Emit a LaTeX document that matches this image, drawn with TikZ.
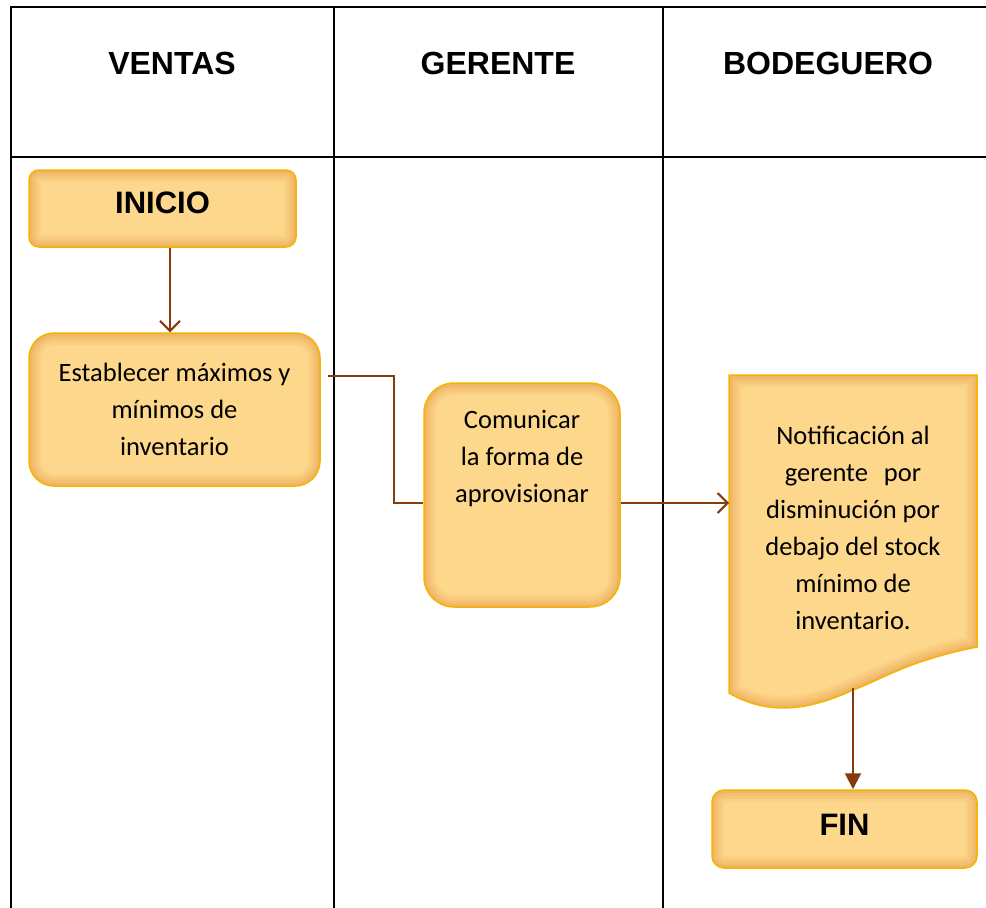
\documentclass[tikz,border=0pt]{standalone}
\usepackage{fontspec}
\setmainfont{Carlito}
\newfontfamily\hdrfont{Liberation Sans}
\usetikzlibrary{arrows.meta}
\definecolor{fillc}{HTML}{FDD88C}
\definecolor{glowc}{HTML}{E2923A}
\definecolor{bordc}{HTML}{F5B400}
\definecolor{arrc}{HTML}{843C0C}
\newcommand\docshape{(729,375) -- (977,375) -- (977,647) .. controls (910,660) and (880,680) .. (853,690) .. controls (820,705) and (775,720) .. (729,693) -- cycle}
\tikzset{
  glow/.style={path picture={
    \foreach \w/\o in {24/0.10,18/0.12,12/0.15,6/0.18}{
      \draw[line width=\w pt, draw=glowc, opacity=\o, rounded corners=#1]
        (path picture bounding box.south west) rectangle (path picture bounding box.north east);}
  }},
  box/.style={draw=bordc, line width=1.5pt, fill=fillc, rounded corners=#1, glow=#1, align=center, inner sep=0pt},
  bodyfont/.style={font=\fontsize{26.5}{37}\selectfont, align=center, inner sep=0pt},
  bigfont/.style={font=\hdrfont\bfseries\fontsize{31}{37}\selectfont},
  hdr/.style={font=\hdrfont\bfseries\fontsize{32}{38}\selectfont, inner sep=0pt},
  grid/.style={line width=2pt, draw=black},
  conn/.style={draw=arrc, line width=2pt},
  arr/.style={conn, -{Straight Barb[length=10pt,width=20pt]}},
  arrT/.style={conn, -{Triangle[length=16pt,width=16pt]}},
}
\begin{document}
\begin{tikzpicture}[x=1pt,y=-1pt]
\fill[white] (0,0) rectangle (986,908);
\useasboundingbox (0,0) rectangle (986,908);
% table
\draw[grid] (10,7) -- (986,7);
\draw[grid] (10,157) -- (986,157);
\draw[grid] (11,6) -- (11,908);
\draw[grid] (334,7) -- (334,908);
\draw[grid] (663,7) -- (663,908);
% headers
\node[hdr] (h1) at (172,63) {VENTAS};
\node[hdr] (h2) at (498,63) {GERENTE};
\node[hdr] (h3) at (828,63) {BODEGUERO};
% boxes
\node[box=10pt, minimum width=267pt, minimum height=77pt, bigfont, text depth=11pt] (ini) at (162.5,208.5) {INICIO};
\node[box=25pt, minimum width=291pt, minimum height=153pt, bodyfont] (est) at (174.5,409.5) {Establecer máximos y\\mínimos de\\inventario};
\node[box=30pt, minimum width=196pt, minimum height=224pt] (com) at (522,495) {};
\node[bodyfont] (comt) at (522,459) {Comunicar\\la forma de\\aprovisionar};
% document shape
\fill[fillc] \docshape;
\begin{scope}
  \clip \docshape;
  \foreach \w/\o in {24/0.10,18/0.12,12/0.15,6/0.18}{
    \draw[line width=\w pt, draw=glowc, opacity=\o] \docshape;}
\end{scope}
\draw[draw=bordc, line width=1.5pt] \docshape;
\node[bodyfont] (doc) at (853,528) {Notificación al\\gerente\hspace{16pt}por\\disminución por\\debajo del stock\\mínimo de\\inventario.};
\node[box=12pt, minimum width=265pt, minimum height=78pt, bigfont, text depth=8pt] (fin) at (844.5,829) {FIN};
% connectors
\coordinate (a1) at ([xshift=7.5pt]ini.south);
\draw[arr] (a1) -- (a1 |- est.north);
\coordinate (c2s) at ([xshift=7pt,yshift=-44pt]est.north east);
\coordinate (c2e) at ([yshift=-8pt]com.west);
\draw[conn] (c2s) -- ++(66,0) |- (c2e);
\coordinate (c3s) at ([yshift=-8pt]com.east);
\coordinate (docw) at (729,503);
\draw[arr] (c3s) -- (docw);
\coordinate (docb) at (853,688);
\draw[arrT] (docb) -- (docb |- fin.north);
\end{tikzpicture}
\end{document}
